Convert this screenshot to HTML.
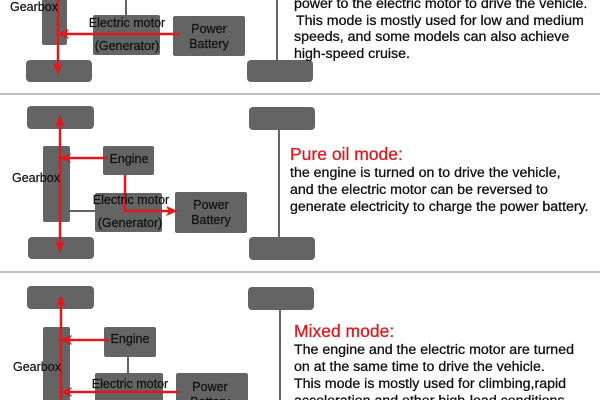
<!DOCTYPE html>
<html><head><meta charset="utf-8"><style>
html,body{margin:0;padding:0;background:#fff;width:600px;height:400px;overflow:hidden}
svg text{font-family:"Liberation Sans",sans-serif}
</style></head><body>
<svg width="600" height="400" viewBox="0 0 600 400" xmlns="http://www.w3.org/2000/svg">
<defs>
<marker id="a" markerWidth="12" markerHeight="10" refX="9" refY="5" orient="auto" markerUnits="userSpaceOnUse"><path d="M0,0 L12,5 L0,10 L3,5 Z" fill="#e0191e"/></marker>
</defs>
<g fill="#646464">
<rect x="42" y="-5" width="25" height="50" rx="2"/>
<rect x="26" y="60" width="66" height="22" rx="4"/>
<rect x="93" y="15" width="67" height="40" rx="2"/>
<rect x="173" y="16" width="72" height="40" rx="2"/>
<rect x="247" y="60" width="66" height="22" rx="4"/>
<rect x="27" y="106" width="67" height="23" rx="4"/>
<rect x="249" y="107" width="66" height="23" rx="4"/>
<rect x="43" y="146" width="27" height="76" rx="2"/>
<rect x="103" y="146" width="51" height="29" rx="2"/>
<rect x="95" y="193" width="67" height="39" rx="2"/>
<rect x="175" y="192" width="72" height="41" rx="2"/>
<rect x="28" y="237" width="66" height="22" rx="4"/>
<rect x="249" y="237" width="66" height="23" rx="4"/>
<rect x="27" y="286" width="67" height="23" rx="4"/>
<rect x="248" y="287" width="66" height="23" rx="4"/>
<rect x="43" y="327" width="27" height="80" rx="2"/>
<rect x="104" y="327" width="52" height="30" rx="2"/>
<rect x="95" y="373" width="68" height="40" rx="2"/>
<rect x="176" y="373" width="72" height="40" rx="2"/>
</g>
<g stroke="#646464" stroke-width="2" fill="none">
<line x1="126" y1="0" x2="126" y2="15"/>
<line x1="277" y1="0" x2="277" y2="60"/>
<line x1="279" y1="130" x2="279" y2="237"/>
<line x1="70" y1="211" x2="95" y2="211"/>
<line x1="128" y1="357" x2="128" y2="373"/>
<line x1="280" y1="310" x2="280" y2="400"/>
</g>
<line x1="0" y1="94" x2="600" y2="94" stroke="#aaa" stroke-width="1.5"/>
<line x1="0" y1="272" x2="600" y2="272" stroke="#aaa" stroke-width="1.5"/>
<g stroke="#e0191e" stroke-width="2.5" fill="none">
<line x1="58" y1="0" x2="58" y2="72" marker-end="url(#a)"/>
<line x1="180" y1="34" x2="60" y2="34" marker-end="url(#a)"/>
<line x1="60" y1="185" x2="60" y2="118" marker-end="url(#a)"/>
<line x1="60" y1="185" x2="60" y2="250" marker-end="url(#a)"/>
<line x1="108" y1="158" x2="62" y2="158" marker-end="url(#a)"/>
<polyline points="125,175 125,211 175,211" marker-end="url(#a)"/>
<line x1="61" y1="400" x2="61" y2="298" marker-end="url(#a)"/>
<line x1="110" y1="340" x2="63" y2="340" marker-end="url(#a)"/>
<line x1="180" y1="392" x2="63" y2="392" marker-end="url(#a)"/>
</g>
<g font-size="12.5" fill="#111" stroke="#111" stroke-width="0.2">
<text x="10" y="11">Gearbox</text>
<text x="127" y="27" text-anchor="middle">Electric motor</text>
<text x="127" y="50" text-anchor="middle">(Generator)</text>
<text x="209" y="33" text-anchor="middle">Power</text>
<text x="209" y="48" text-anchor="middle">Battery</text>
<text x="129" y="163" text-anchor="middle">Engine</text>
<text x="12" y="182">Gearbox</text>
<text x="131" y="204" text-anchor="middle">Electric motor</text>
<text x="130" y="227" text-anchor="middle">(Generator)</text>
<text x="211" y="209" text-anchor="middle">Power</text>
<text x="211" y="224" text-anchor="middle">Battery</text>
<text x="130" y="343" text-anchor="middle">Engine</text>
<text x="13" y="371">Gearbox</text>
<text x="130" y="388" text-anchor="middle">Electric motor</text>
<text x="210" y="391" text-anchor="middle">Power</text>
<text x="210" y="406" text-anchor="middle">Battery</text>
</g>
<g font-size="14.2" fill="#111" stroke="#111" stroke-width="0.3">
<text x="294" y="8">power to the electric motor to drive the vehicle.</text>
<text x="296" y="25">This mode is mostly used for low and medium</text>
<text x="294" y="41">speeds, and some models can also achieve</text>
<text x="294" y="58">high-speed cruise.</text>
<text x="290" y="160" font-size="17.5" fill="#e0191e" stroke="#e0191e">Pure oil mode:</text>
<text x="290" y="177">the engine is turned on to drive the vehicle,</text>
<text x="290" y="194">and the electric motor can be reversed to</text>
<text x="290" y="211">generate electricity to charge the power battery.</text>
<text x="294" y="337" font-size="17.5" fill="#e0191e" stroke="#e0191e">Mixed mode:</text>
<text x="294" y="354">The engine and the electric motor are turned</text>
<text x="294" y="371">on at the same time to drive the vehicle.</text>
<text x="294" y="388">This mode is mostly used for climbing,rapid</text>
<text x="294" y="405">acceleration and other high-load conditions.</text>
</g>
</svg>
</body></html>
